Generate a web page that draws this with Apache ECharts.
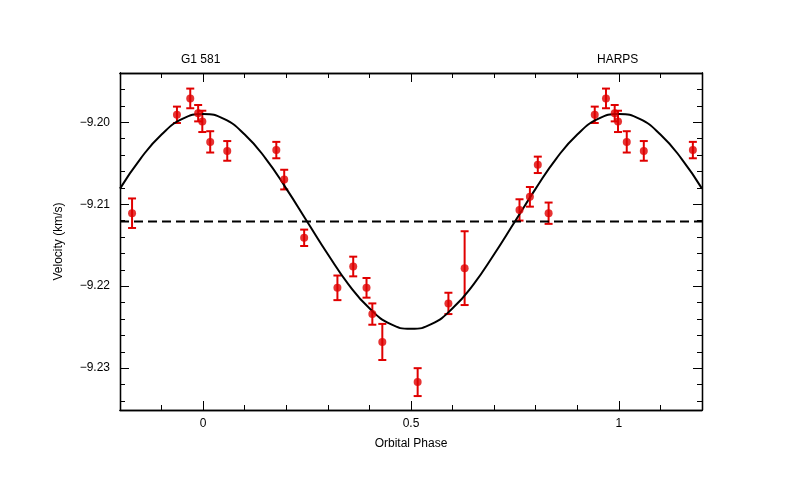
<!DOCTYPE html><html><head><meta charset="utf-8">
<script src="https://cdn.jsdelivr.net/npm/echarts@6/dist/echarts.min.js"></script>
<style>html,body{margin:0;background:#fff}#c{width:800px;height:491px}</style></head><body><div id="c"></div>
<script>
const phases=[-0.171,-0.063,-0.031,-0.012,-0.002,0.017,0.058,0.176,0.195,0.243,0.323,0.361,0.393,0.407,0.431,0.516,0.590,0.629,0.761,0.786,0.805,0.831,0.942,0.969,0.990,0.998,1.019,1.060,1.178];
const velocities=[-9.2111,-9.1991,-9.1971,-9.1989,-9.1999,-9.2024,-9.2035,-9.2034,-9.2070,-9.2141,-9.2202,-9.2176,-9.2202,-9.2234,-9.2268,-9.2317,-9.2221,-9.2178,-9.2107,-9.2091,-9.2052,-9.2111,-9.1991,-9.1971,-9.1989,-9.1999,-9.2024,-9.2035,-9.2034];
const errors=[0.0018,0.0010,0.0012,0.0010,0.0013,0.0013,0.0012,0.0010,0.0012,0.0010,0.0015,0.0012,0.0012,0.0013,0.0022,0.0017,0.0013,0.0045,0.0013,0.0012,0.0010,0.0013,0.0010,0.0012,0.0010,0.0013,0.0013,0.0012,0.0010];
const curvePhases=[-0.2,-0.15,-0.1,-0.05,0,0.05,0.1,0.15,0.2,0.25,0.3,0.35,0.4,0.45,0.5,0.55,0.6,0.65,0.7,0.75,0.8,0.85,0.9,0.95,1,1.05,1.1,1.15,1.2];
const curveValues=[-9.2081,-9.2044,-9.2015,-9.1996,-9.1990,-9.1996,-9.2015,-9.2044,-9.2081,-9.2121,-9.2161,-9.2198,-9.2227,-9.2246,-9.2252,-9.2246,-9.2227,-9.2198,-9.2161,-9.2121,-9.2081,-9.2044,-9.2015,-9.1996,-9.1990,-9.1996,-9.2015,-9.2044,-9.2081];
const meanVelocity=-9.2121;
const xTicks=[0,0.5,1];
const xMinor=[-0.1,0.1,0.2,0.3,0.4,0.6,0.7,0.8,0.9,1.1];
const yTicks=[-9.23,-9.22,-9.21,-9.20];
const yMinor=[-9.234,-9.232,-9.228,-9.226,-9.224,-9.222,-9.218,-9.216,-9.214,-9.212,-9.208,-9.206,-9.204,-9.202,-9.198,-9.196];
const XMIN=-0.2,XMAX=1.2,YMIN=-9.2351,YMAX=-9.194;
const ch=echarts.init(document.getElementById('c'));
const F='Liberation Sans';
function xa(pos,vals,len,labels){return {type:'value',position:pos,min:XMIN,max:XMAX,splitLine:{show:false},
 axisLine:{show:true,onZero:false,lineStyle:{color:'#000',width:1.3}},
 axisTick:{show:true,inside:true,length:len,customValues:vals,lineStyle:{color:'#000'}},
 axisLabel:{show:labels,customValues:xTicks,color:'#000',fontFamily:F,fontSize:12,margin:8,formatter:v=>String(v)}};}
function ya(pos,vals,len,labels){return {type:'value',position:pos,min:YMIN,max:YMAX,splitLine:{show:false},
 axisLine:{show:true,onZero:false,lineStyle:{color:'#000',width:1.3}},
 axisTick:{show:true,inside:true,length:len,customValues:vals,lineStyle:{color:'#000'}},
 axisLabel:{show:labels,customValues:yTicks,color:'#000',fontFamily:F,fontSize:12,margin:10,formatter:v=>'\u2212'+Math.abs(v).toFixed(2)}};}
ch.setOption({
 animation:false,
 grid:{left:120,right:98,top:73,bottom:81},
 xAxis:[Object.assign(xa('bottom',xTicks,9,true),{name:'Orbital Phase',nameLocation:'middle',nameGap:28,nameTextStyle:{color:'#000',fontFamily:F,fontSize:12}}),
  xa('bottom',xMinor,5,false),xa('top',xTicks,9,false),xa('top',xMinor,5,false)],
 yAxis:[Object.assign(ya('left',yTicks,9,true),{name:'Velocity (km/s)',nameLocation:'middle',nameGap:55,nameTextStyle:{color:'#000',fontFamily:F,fontSize:12}}),
  ya('left',yMinor,5,false),ya('right',yTicks,9,false),ya('right',yMinor,5,false)],
 graphic:[{type:'text',left:181,top:54,style:{text:'G1 581',fontFamily:F,fontSize:12,fill:'#000'}},
  {type:'text',left:597,top:54,style:{text:'HARPS',fontFamily:F,fontSize:12,fill:'#000'}}],
 series:[
  {type:'line',data:curvePhases.map((p,i)=>[p,curveValues[i]]),smooth:true,symbol:'none',lineStyle:{color:'#000',width:2}},
  {type:'line',data:[[XMIN,meanVelocity],[XMAX,meanVelocity]],symbol:'none',lineStyle:{color:'#000',width:2,type:[9,5]}},
  {type:'custom',data:phases.map((p,i)=>[p,velocities[i]-errors[i],velocities[i]+errors[i]]),
   renderItem:(params,api)=>{const lo=api.coord([api.value(0),api.value(1)]),hi=api.coord([api.value(0),api.value(2)]);const s={stroke:'#e00000',lineWidth:2};
    return {type:'group',children:[{type:'line',shape:{x1:lo[0],y1:lo[1],x2:hi[0],y2:hi[1]},style:s},
     {type:'line',shape:{x1:lo[0]-4,y1:lo[1],x2:lo[0]+4,y2:lo[1]},style:s},
     {type:'line',shape:{x1:hi[0]-4,y1:hi[1],x2:hi[0]+4,y2:hi[1]},style:s}]};},z:3},
  {type:'scatter',data:phases.map((p,i)=>[p,velocities[i]]),symbolSize:8,itemStyle:{color:'#e00000'},z:4}
 ]});
</script></body></html>
